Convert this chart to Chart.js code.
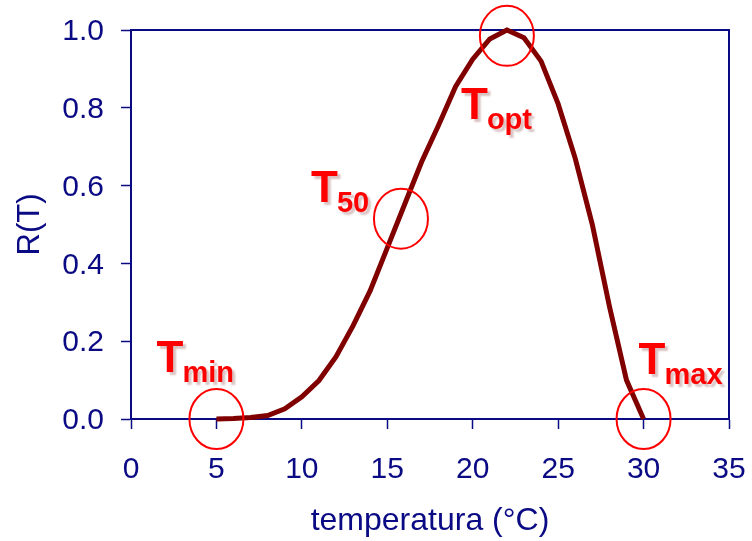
<!DOCTYPE html>
<html>
<head>
<meta charset="utf-8">
<script src="https://cdn.jsdelivr.net/npm/chart.js@4.4.1/dist/chart.umd.min.js"></script>
<style>
  html, body { margin: 0; padding: 0; background: #fff; }
  #wrap { width: 752px; height: 541px; }
</style>
</head>
<body>
<div id="wrap"><canvas id="chart-rt" width="752" height="541"></canvas></div>
<script>
// temperature response curve R(T)
var temps = [5, 6, 7, 8, 9, 10, 11, 12, 13, 14, 15, 16, 17, 18, 19, 20, 21, 22, 23, 24, 25, 26, 27, 28, 29, 30];
var rates = [0, 0.001, 0.004, 0.009, 0.026, 0.057, 0.099, 0.16, 0.24, 0.33, 0.44, 0.55, 0.66, 0.755, 0.855, 0.925, 0.977, 1.0, 0.98, 0.92, 0.81, 0.67, 0.5, 0.29, 0.1, 0];

// cardinal temperatures marked on the curve
var markerSubs = ["min", "50", "opt", "max"];
var markerT = [5, 15.8, 22, 30];
var markerR = [0, 0.515, 0.985, 0];

var xTicks = [0, 5, 10, 15, 20, 25, 30, 35];
var yTicks = [0, 0.2, 0.4, 0.6, 0.8, 1.0];

var navy = "#0a0a84";
var fontFamily = "'Liberation Sans', Arial, sans-serif";

var points = temps.map(function (t, i) {
  return { x: t, y: rates[i] };
});

// box around the plot area (top and right sides too)
var frame = {
  id: "frame",
  beforeDatasetsDraw: function (chart) {
    var a = chart.chartArea;
    var ctx = chart.ctx;
    ctx.save();
    ctx.strokeStyle = navy;
    ctx.lineWidth = 2;
    ctx.strokeRect(a.left, a.top, a.right - a.left, a.bottom - a.top);
    ctx.restore();
  },
};

// label offsets (px) from each circle centre
var labelDx = [-60, -90, -46, -5];
var labelDy = [-47, -17, 83, -45];

var markers = {
  id: "markers",
  afterDatasetsDraw: function (chart) {
    var ctx = chart.ctx;
    var xs = chart.scales.x;
    var ys = chart.scales.y;
    ctx.save();
    for (var i = 0; i < markerSubs.length; i++) {
      var cx = xs.getPixelForValue(markerT[i]);
      var cy = ys.getPixelForValue(markerR[i]);

      ctx.beginPath();
      ctx.ellipse(cx, cy, 27, 30, 0, 0, Math.PI * 2);
      ctx.strokeStyle = "#ff0000";
      ctx.lineWidth = 2;
      ctx.stroke();

      var lx = cx + labelDx[i];
      var ly = cy + labelDy[i];
      ctx.save();
      ctx.fillStyle = "#ff0000";
      ctx.shadowColor = "rgba(170, 120, 120, 0.45)";
      ctx.shadowOffsetX = 3;
      ctx.shadowOffsetY = 3;
      ctx.shadowBlur = 2;
      ctx.textBaseline = "alphabetic";
      ctx.textAlign = "left";
      ctx.font = "bold 44px " + fontFamily;
      ctx.fillText("T", lx, ly);
      ctx.font = "bold 29px " + fontFamily;
      ctx.fillText(markerSubs[i], lx + 26, ly + 10);
      ctx.restore();
    }
    ctx.restore();
  },
};

var ctx1 = document.getElementById("chart-rt").getContext("2d");
new Chart(ctx1, {
  type: "line",
  data: {
    datasets: [
      {
        label: "R(T)",
        data: points,
        borderColor: "#800000",
        borderWidth: 5,
        pointRadius: 0,
        tension: 0,
        fill: false,
        clip: false,
      },
    ],
  },
  options: {
    responsive: false,
    animation: false,
    layout: {
      padding: { top: 30, right: 23, left: 0, bottom: 0 },
    },
    plugins: {
      legend: { display: false },
      tooltip: { enabled: false },
    },
    scales: {
      x: {
        type: "linear",
        min: 0,
        max: 35,
        afterFit: function (scale) {
          scale.height = 122;
          scale.paddingLeft = 0;
          scale.paddingRight = 0;
        },
        afterBuildTicks: function (scale) {
          scale.ticks = xTicks.map(function (v) {
            return { value: v };
          });
        },
        border: { color: navy, width: 2 },
        grid: {
          drawOnChartArea: false,
          drawTicks: true,
          tickLength: 10,
          tickColor: navy,
          tickWidth: 1.5,
        },
        ticks: {
          color: navy,
          padding: 23,
          maxRotation: 0,
          font: { size: 30, family: fontFamily },
        },
        title: {
          display: true,
          text: "temperatura (°C)",
          color: navy,
          padding: { top: 0, bottom: 1 },
          font: { size: 32, family: fontFamily },
        },
      },
      y: {
        min: 0,
        max: 1,
        afterFit: function (scale) {
          scale.width = 131;
          scale.paddingTop = 0;
          scale.paddingBottom = 0;
        },
        afterBuildTicks: function (scale) {
          scale.ticks = yTicks.map(function (v) {
            return { value: v };
          });
        },
        border: { color: navy, width: 2 },
        grid: {
          drawOnChartArea: false,
          drawTicks: true,
          tickLength: 10,
          tickColor: navy,
          tickWidth: 1.5,
        },
        ticks: {
          color: navy,
          padding: 17,
          labelOffset: 2,
          font: { size: 30, family: fontFamily },
          callback: function (value) {
            return value.toFixed(1);
          },
        },
        title: {
          display: true,
          text: "R(T)",
          color: navy,
          padding: { top: 12, bottom: 0 },
          font: { size: 31, family: fontFamily },
        },
      },
    },
  },
  plugins: [frame, markers],
});
</script>
</body>
</html>
